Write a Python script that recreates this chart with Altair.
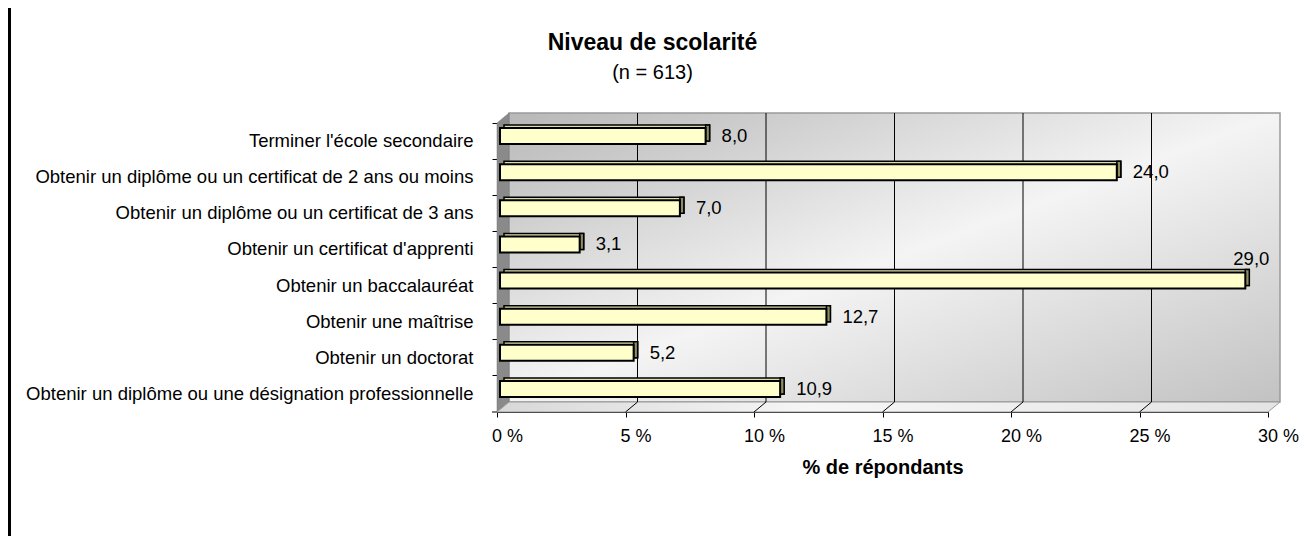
import altair as alt
import pandas as pd

categories = [
    "Terminer l'école secondaire ",
    "Obtenir un diplôme ou un certificat de 2 ans ou moins",
    "Obtenir un diplôme ou un certificat de 3 ans",
    "Obtenir un certificat d'apprenti",
    "Obtenir un baccalauréat",
    "Obtenir une maîtrise",
    "Obtenir un doctorat",
    "Obtenir un diplôme ou une désignation professionnelle",
]
values = [8.0, 24.0, 7.0, 3.1, 29.0, 12.7, 5.2, 10.9]
x_ticks = [0, 5, 10, 15, 20, 25, 30]
inner_grid = [5, 10, 15, 20, 25]

W, H = 771, 289
DX, DY = 12, 10
FONT = "Liberation Sans"

df = pd.DataFrame({"cat": categories, "value": values})
df["label"] = [f"{v:.1f}".replace(".", ",") for v in values]
df_max = df[df["value"] == df["value"].max()]
df_rest = df[df["value"] != df["value"].max()]
grid_df = pd.DataFrame({"t": inner_grid})
one = pd.DataFrame({"a": [0]})

xscale = alt.Scale(domain=[0, 30], nice=False, zero=True)
yscale = alt.Scale(domain=categories, paddingInner=0, paddingOuter=0)

X = alt.X("value:Q", scale=xscale,
          axis=alt.Axis(values=x_ticks, labelExpr="datum.value + ' %'", grid=False,
                        domainColor="black", tickColor="black", tickSize=5,
                        labelFont=FONT, labelFontSize=18, labelColor="black",
                        labelPadding=10, labelOffset=10, labelFlush=False,
                        title="% de répondants", titleFont=FONT, titleFontSize=20,
                        titleFontWeight="bold", titleColor="black", titlePadding=12))
Y = alt.Y("cat:N", sort=categories, scale=yscale,
          axis=alt.Axis(title=None, domainColor="black", tickColor="black", tickSize=5,
                        bandPosition=0, labelFont=FONT, labelFontSize=18.5,
                        labelColor="black", labelPadding=19, labelLimit=600))

wall_grad = alt.Gradient(
    gradient="linear",
    stops=[alt.GradientStop(color="#b8b8b8", offset=0),
           alt.GradientStop(color="#f4f4f4", offset=0.5),
           alt.GradientStop(color="#c2c2c2", offset=1)],
    x1=0, y1=0, x2=1, y2=1)

back_wall = alt.Chart(one).mark_rect(
    fill=wall_grad, stroke="#9a9a9a", strokeWidth=1.5, xOffset=DX, x2Offset=DX
).encode(x=alt.datum(0, scale=xscale), x2=alt.datum(30), y=alt.value(-DY), y2=alt.value(H - DY))

side_path = f"M0,0L{DX},{-DY}L{DX},{H - DY}L0,{H}Z"
side_wall = alt.Chart(one).mark_point(
    shape=side_path, size=4, filled=True, fill="#8a8a8a", stroke="#777777",
    strokeWidth=0.5, opacity=1
).encode(x=alt.value(0), y=alt.value(0))

floor_path = f"M0,{H}L{W},{H}L{W + DX},{H - DY}L{DX},{H - DY}Z"
floor = alt.Chart(one).mark_point(
    shape=floor_path, size=4, filled=True,
    fill=alt.Gradient(gradient="linear",
                      stops=[alt.GradientStop(color="#d8d8d8", offset=0),
                             alt.GradientStop(color="#f6f6f6", offset=0.4),
                             alt.GradientStop(color="#e4e4e4", offset=1)],
                      x1=0, y1=0, x2=1, y2=0),
    stroke="#9a9a9a", strokeWidth=1, opacity=1
).encode(x=alt.value(0), y=alt.value(0))

grid = alt.Chart(grid_df).mark_rule(color="black", strokeWidth=1, xOffset=DX).encode(
    x=alt.X("t:Q", scale=xscale), y=alt.value(-DY), y2=alt.value(H - DY))
slants = alt.Chart(grid_df).mark_rule(color="black", strokeWidth=1, x2Offset=DX).encode(
    x=alt.X("t:Q", scale=xscale), x2="t:Q", y=alt.value(H), y2=alt.value(H - DY))

bottom_tick = alt.Chart(one).mark_rule(color="black", strokeWidth=1).encode(
    x=alt.value(-5), x2=alt.value(0), y=alt.value(H))

BH = 16
OX, OY = 3, -5
TX, TY = 4, -3

bar_top = alt.Chart(df).mark_bar(
    height=BH, fill="#dcdcae", stroke="black", strokeWidth=1.5,
    xOffset=OX + TX, x2Offset=OX + TX, yOffset=OY + TY
).encode(x=X, y=Y)
bar_side = alt.Chart(df).mark_bar(
    height=BH, fill="#8e8e62", stroke="black", strokeWidth=1.5,
    xOffset=OX, x2Offset=OX + TX, yOffset=OY + TY
).encode(x=X, x2="value:Q", y=Y)
bar_front = alt.Chart(df).mark_bar(
    height=BH, fill="#ffffcc", stroke="black", strokeWidth=2,
    xOffset=OX, x2Offset=OX, yOffset=OY
).encode(x=X, y=Y)

labels = alt.Chart(df_rest).mark_text(
    align="left", baseline="middle", dx=OX + TX + 12, dy=OY,
    font=FONT, fontSize=18.5, color="black"
).encode(x=X, y=Y, text="label:N")
label_max = alt.Chart(df_max).mark_text(
    align="center", baseline="middle", dx=OX + 6, dy=OY - 22,
    font=FONT, fontSize=18.5, color="black"
).encode(x=X, y=Y, text="label:N")

border = alt.Chart(one).mark_rule(color="black", strokeWidth=3).encode(
    x=alt.value(-487.5), y=alt.value(-120), y2=alt.value(H + 140))

chart = alt.layer(
    back_wall, side_wall, floor, grid, slants, bottom_tick,
    bar_top, bar_side, bar_front, labels, label_max, border
).properties(
    width=W, height=H,
    autosize=alt.AutoSizeParams(type="none"),
    padding={"left": 489, "top": 115, "right": 36, "bottom": 124},
    title=alt.TitleParams(
        text="Niveau de scolarité", subtitle="(n = 613)", anchor="middle", frame="group",
        dx=-230, offset=-81, font=FONT, fontSize=23, fontWeight="bold", color="black",
        subtitleFont=FONT, subtitleFontSize=20, subtitleColor="black", subtitlePadding=8),
).configure_view(stroke=None).configure(background="white")

chart.save("out.html", embed_options={"renderer": "svg", "actions": False})
